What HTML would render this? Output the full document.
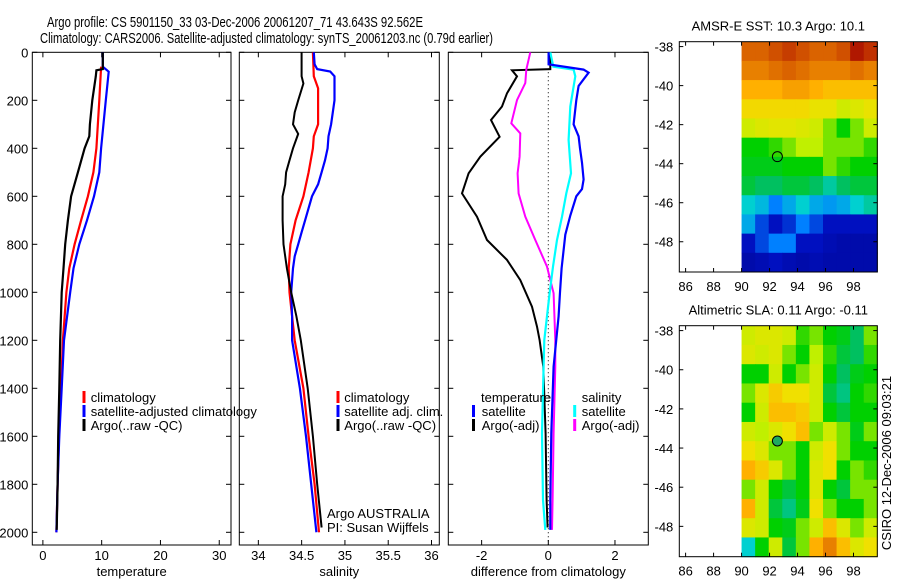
<!DOCTYPE html>
<html><head><meta charset="utf-8"><style>
body{margin:0;background:#fff}
svg{display:block;font-family:"Liberation Sans",sans-serif}
text{font-size:13px;fill:#000}
</style></head><body>
<svg id="fig" width="900" height="580" viewBox="0 0 900 580" xmlns="http://www.w3.org/2000/svg">
<rect width="900" height="580" fill="#fff"/>
<text x="47" y="27" textLength="376" lengthAdjust="spacingAndGlyphs" style="font-size:15px">Argo profile: CS 5901150_33 03-Dec-2006 20061207_71 43.643S 92.562E</text>
<text x="40" y="43" textLength="453" lengthAdjust="spacingAndGlyphs" style="font-size:15px">Climatology: CARS2006. Satellite-adjusted climatology: synTS_20061203.nc (0.79d earlier)</text>
<g id="g"></g>
</svg>
<script>
// ---- profile data ----
const tDepthBlue=[0,60,81,200,400,500,600,700,800,900,1000,1200,1400,1600,1800,2000];
const tBlue=[10.2,10.2,11.2,10.7,9.9,9.6,8.7,7.5,6.2,5.2,4.65,3.6,3.2,2.8,2.5,2.3];
const tDepthRed=[60,200,400,500,600,700,800,900,1000,1200,1400,1600,1800,2000];
const tRed=[9.9,9.6,9.1,8.6,7.65,6.5,5.4,4.5,4.0,3.4,3.1,2.75,2.5,2.3];
const tDepthBlack=[0,70,75,100,200,300,350,400,500,600,700,800,900,1000,1200,1400,1600,1800,1990];
const tBlack=[10.2,10.2,9.1,9.0,8.4,8.0,7.9,7.1,5.95,4.8,4.25,3.8,3.5,3.2,2.95,2.8,2.6,2.5,2.35];

const sDepthRed=[0,100,150,300,350,400,500,600,700,800,900,1000,1200,1400,1600,1800,2000];
const sRed=[34.63,34.64,34.69,34.69,34.64,34.63,34.58,34.52,34.43,34.37,34.35,34.36,34.42,34.52,34.58,34.65,34.70];
const sDepthBlue=[0,50,70,80,100,200,250,300,350,400,450,500,550,600,700,750,800,850,900,1000,1100,1200,1400,1600,1800,2000];
const sBlue=[34.64,34.65,34.68,34.83,34.88,34.88,34.86,34.84,34.81,34.80,34.77,34.73,34.69,34.62,34.54,34.50,34.46,34.42,34.40,34.38,34.39,34.39,34.48,34.55,34.61,34.67];
const sDepthBlack=[0,100,130,200,250,300,340,400,450,500,550,600,700,800,900,1000,1100,1200,1400,1600,1800,1980];
const sBlack=[34.50,34.50,34.52,34.46,34.42,34.40,34.46,34.40,34.36,34.32,34.31,34.28,34.28,34.29,34.33,34.38,34.44,34.49,34.57,34.63,34.68,34.73];

const dDepthTS=[0,50,72,85,140,200,300,350,400,460,530,570,600,680,760,900,1000,1100,1310,1588,1865,1990];
const dTSat=[0.01,0.01,1.06,1.21,0.91,0.84,0.76,0.91,0.95,1.01,1.06,1.01,0.84,0.66,0.51,0.40,0.35,0.31,0.16,0.09,0.06,0.06];
const dDepthTA=[0,70,75,100,171,226,282,352,435,504,588,685,782,865,949,1060,1143,1199,1310,1588,1865,1980];
const dTArgo=[0.06,0.06,-1.09,-0.94,-1.24,-1.39,-1.72,-1.46,-2.04,-2.39,-2.59,-2.14,-1.84,-1.24,-0.84,-0.49,-0.34,-0.26,-0.15,-0.08,-0.05,-0.02];
const dDepthSS=[0,60,72,100,226,365,504,588,685,782,893,1004,1199,1310,1588,1865,1990];
const dSSat=[0.06,0.15,0.76,0.81,0.66,0.61,0.68,0.54,0.41,0.26,0.14,0.04,-0.12,-0.14,-0.19,-0.16,-0.09];
const dDepthSA=[0,72,128,199,296,338,435,504,588,685,782,893,1004,1199,1310,1588,1865,1990];
const dSArgo=[-0.54,-0.66,-0.69,-0.94,-1.11,-0.84,-0.86,-0.92,-0.89,-0.69,-0.39,-0.04,0.16,0.21,0.21,0.16,0.13,0.11];

const depthTicks=[0,200,400,600,800,1000,1200,1400,1600,1800,2000];
const tTicks=[0,10,20,30];
const sTicks=[34,34.5,35,35.5,36];
const sTickLabels=["34","34.5","35","35.5","36"];
const dTicks=[-2,0,2];
const lonTicks=[86,88,90,92,94,96,98];
const latTicks=[-38,-40,-42,-44,-46,-48];

// map grids (colormap fraction), rows from -38 southward, cols lon 90..99.7
const sstGrid=[
[0.82,0.82,0.85,0.88,0.85,0.82,0.82,0.85,0.95,0.9],
[0.78,0.78,0.8,0.82,0.8,0.78,0.78,0.78,0.8,0.78],
[0.72,0.72,0.72,0.74,0.74,0.72,0.7,0.7,0.7,0.7],
[0.66,0.66,0.66,0.66,0.66,0.64,0.64,0.6,0.62,0.64],
[0.6,0.62,0.63,0.63,0.62,0.6,0.55,0.5,0.55,0.6],
[0.5,0.5,0.52,0.55,0.58,0.58,0.55,0.55,0.55,0.52],
[0.48,0.48,0.48,0.5,0.5,0.5,0.55,0.52,0.5,0.5],
[0.45,0.42,0.42,0.45,0.45,0.42,0.38,0.42,0.45,0.45],
[0.35,0.32,0.25,0.3,0.35,0.3,0.28,0.3,0.35,0.38],
[0.3,0.2,0.15,0.18,0.25,0.2,0.15,0.15,0.15,0.15],
[0.15,0.2,0.25,0.25,0.15,0.15,0.12,0.1,0.1,0.1],
[0.1,0.12,0.15,0.12,0.1,0.12,0.1,0.1,0.1,0.1]];
const slaGrid=[
[0.6,0.62,0.62,0.6,0.52,0.55,0.5,0.48,0.42,0.55],
[0.62,0.6,0.62,0.55,0.5,0.58,0.52,0.45,0.42,0.52],
[0.5,0.5,0.6,0.5,0.55,0.6,0.5,0.42,0.48,0.5],
[0.55,0.62,0.68,0.65,0.65,0.6,0.45,0.4,0.5,0.52],
[0.5,0.6,0.7,0.7,0.68,0.6,0.5,0.45,0.5,0.5],
[0.6,0.58,0.62,0.65,0.7,0.55,0.6,0.55,0.48,0.55],
[0.65,0.62,0.55,0.55,0.5,0.6,0.65,0.55,0.5,0.5],
[0.72,0.68,0.62,0.55,0.5,0.62,0.65,0.5,0.55,0.52],
[0.55,0.6,0.5,0.45,0.5,0.62,0.5,0.45,0.55,0.55],
[0.72,0.6,0.45,0.4,0.48,0.65,0.55,0.5,0.5,0.55],
[0.62,0.6,0.5,0.48,0.55,0.6,0.7,0.62,0.55,0.6],
[0.35,0.5,0.6,0.45,0.55,0.72,0.78,0.7,0.62,0.65]];
const floatLon=92.56, floatLat=-43.64;

const NS="http://www.w3.org/2000/svg";
const G=document.getElementById('g');
function el(tag,attrs,parent){const e=document.createElementNS(NS,tag);for(const k in attrs)e.setAttribute(k,attrs[k]);(parent||G).appendChild(e);return e;}
function txt(x,y,s,anchor,parent){const t=el('text',{x:x,y:y,'text-anchor':anchor||'start'},parent);t.textContent=s;return t;}

const TOP=52.3,BOT=545,PXM=0.24;
const yD=d=>TOP+d*PXM;
const panels=[
 {name:'temperature',x0:32.3,x1:231,v0:-1.8,v1:32.0,ticks:tTicks,labels:tTicks.map(String),xlabel:'temperature'},
 {name:'salinity',x0:239.3,x1:439.3,v0:33.78,v1:36.09,ticks:sTicks,labels:sTickLabels,xlabel:'salinity'},
 {name:'difference',x0:448.3,x1:648.3,v0:-3,v1:3,ticks:dTicks,labels:dTicks.map(String),xlabel:'difference from climatology'}];
panels.forEach(p=>{p.sx=v=>p.x0+(v-p.v0)/(p.v1-p.v0)*(p.x1-p.x0);});

function line(p,depths,vals,color,w,name){
  const pts=depths.map((d,i)=>p.sx(vals[i]).toFixed(1)+','+yD(d).toFixed(1)).join(' ');
  const e=el('polyline',{points:pts,fill:'none',stroke:color,'stroke-width':w,'stroke-linejoin':'miter'});
  
  
}

panels.forEach((p,pi)=>{
  const g=el('g',{});
  
  
  el('rect',{x:p.x0,y:TOP,width:p.x1-p.x0,height:BOT-TOP,fill:'none',stroke:'#000','stroke-width':1},g);
  depthTicks.forEach(d=>{
    el('line',{x1:p.x0,x2:p.x0+5,y1:yD(d),y2:yD(d),stroke:'#000'},g);
    el('line',{x1:p.x1,x2:p.x1-5,y1:yD(d),y2:yD(d),stroke:'#000'},g);
    if(pi===0){const t=txt(p.x0-4,yD(d)+5,String(d),'end',g);
      
      }
  });
  p.ticks.forEach((v,i)=>{
    const x=p.sx(v);
    el('line',{x1:x,x2:x,y1:BOT,y2:BOT-5,stroke:'#000'},g);
    el('line',{x1:x,x2:x,y1:TOP,y2:TOP+5,stroke:'#000'},g);
    const t=txt(x,BOT+15,p.labels[i],'middle',g);
    
    
  });
  const xl=txt((p.x0+p.x1)/2,BOT+31,p.xlabel,'middle',g);
  
  
});

const P1=panels[0],P2=panels[1],P3=panels[2];
line(P1,tDepthRed,tRed,'#f00',2.2,'temp-climatology-line');
line(P1,tDepthBlue,tBlue,'#00f',2.2,'temp-satellite-line');
line(P1,tDepthBlack,tBlack,'#000',2.2,'temp-argo-line');
line(P2,sDepthRed,sRed,'#f00',2.2,'sal-climatology-line');
line(P2,sDepthBlue,sBlue,'#00f',2.2,'sal-satellite-line');
line(P2,sDepthBlack,sBlack,'#000',2,'sal-argo-line');
el('line',{x1:P3.sx(0),x2:P3.sx(0),y1:TOP,y2:BOT,stroke:'#000','stroke-dasharray':'1,3'});
line(P3,dDepthTA,dTArgo,'#000',2,'diff-temp-argo-line');
line(P3,dDepthSA,dSArgo,'#f0f',2,'diff-sal-argo-line');
line(P3,dDepthSS,dSSat,'#0ff',2.2,'diff-sal-satellite-line');
line(P3,dDepthTS,dTSat,'#00f',2.2,'diff-temp-satellite-line');

function legendItem(mx,tx,y,color,label,name){
  const g=el('g',{});
  
  
  if(color) el('rect',{x:mx-1.5,y:y-11,width:3,height:12,fill:color},g);
  txt(tx,y,label,'start',g);
}
legendItem(84,90.7,402,'#f00','climatology','legend-climatology');
legendItem(84,90.7,416,'#00f','satellite-adjusted climatology','legend-satellite-adjusted');
legendItem(84,90.7,430,'#000','Argo(..raw -QC)','legend-argo');
legendItem(338,344.3,402,'#f00','climatology','legend-sal-climatology');
legendItem(338,344.3,416,'#00f','satellite adj. clim.','legend-sal-satellite');
legendItem(338,344.3,430,'#000','Argo(..raw -QC)','legend-sal-argo');
legendItem(0,327,518,null,'Argo AUSTRALIA','argo-agency-note');
legendItem(0,327,532,null,'PI: Susan Wijffels','pi-note');
legendItem(0,481,402,null,'temperature','legend-temperature-heading');
legendItem(473.5,481.7,416,'#00f','satellite','legend-temp-satellite');
legendItem(473.5,481.7,430,'#000','Argo(-adj)','legend-temp-argo');
legendItem(0,581.7,402,null,'salinity','legend-salinity-heading');
legendItem(574.7,581.7,416,'#0ff','satellite','legend-sal-satellite-diff');
legendItem(574.7,581.7,430,'#f0f','Argo(-adj)','legend-sal-argo-diff');

// colormap stops (fraction, r,g,b)
const cmap=[[0,0,0,128],[0.15,0,16,192],[0.25,0,128,255],[0.35,0,208,208],[0.42,0,192,96],[0.5,0,208,0],[0.58,192,240,0],[0.65,240,224,0],[0.72,255,176,0],[0.8,224,112,0],[0.9,192,48,0],[1,160,0,0]];
function cm(v){
  v=Math.max(0,Math.min(1,v));
  for(let i=1;i<cmap.length;i++){
    if(v<=cmap[i][0]){const a=cmap[i-1],b=cmap[i],t=(v-a[0])/(b[0]-a[0]);
      return `rgb(${Math.round(a[1]+t*(b[1]-a[1]))},${Math.round(a[2]+t*(b[2]-a[2]))},${Math.round(a[3]+t*(b[3]-a[3]))})`;}
  }
  return 'rgb(160,0,0)';
}
function drawMap(m){
  const g=el('g',{});
  
  
  const sx=lon=>m.x0+(lon-m.lon0)/(m.lon1-m.lon0)*(m.x1-m.x0);
  const sy=lat=>m.y0+(m.lat0-lat)/(m.lat0-m.lat1)*(m.y1-m.y0);
  const nr=m.grid.length,nc=m.grid[0].length;
  const cw=(m.lon1-90)/nc, ch=(m.lat0-m.lat1)/nr;
  m.grid.forEach((row,r)=>row.forEach((v,c)=>{
    const xa=sx(90+c*cw),xb=sx(90+(c+1)*cw),ya=sy(m.lat0-r*ch),yb=sy(m.lat0-(r+1)*ch);
    el('rect',{x:xa.toFixed(2),y:ya.toFixed(2),width:(xb-xa+0.5).toFixed(2),height:(yb-ya+0.5).toFixed(2),fill:cm(v)},g);
  }));
  el('rect',{x:m.x0,y:m.y0,width:m.x1-m.x0,height:m.y1-m.y0,fill:'none',stroke:'#000'},g);
  lonTicks.forEach(lon=>{const x=sx(lon);
    el('line',{x1:x,x2:x,y1:m.y1,y2:m.y1-4,stroke:'#000'},g);
    el('line',{x1:x,x2:x,y1:m.y0,y2:m.y0+4,stroke:'#000'},g);
    txt(x,m.y1+19,String(lon),'middle',g);});
  latTicks.forEach(lat=>{const y=sy(lat);
    el('line',{x1:m.x0,x2:m.x0+4,y1:y,y2:y,stroke:'#000'},g);
    el('line',{x1:m.x1,x2:m.x1-4,y1:y,y2:y,stroke:'#000'},g);
    txt(m.x0-6,y+5,String(lat),'end',g);});
  const c=el('circle',{cx:sx(floatLon),cy:sy(floatLat),r:5,fill:m.fill,stroke:'#000','stroke-width':1},g);
  
  
  const t=txt((m.x0+m.x1)/2,m.y0-11,m.title,'middle',g);
  
  
}
drawMap({name:'sst-map',grid:sstGrid,x0:679.3,x1:877.3,y0:41.7,y1:272,lon0:85.55,lon1:99.7,lat0:-37.75,lat1:-49.55,fill:'none',title:'AMSR-E SST: 10.3  Argo: 10.1'});
drawMap({name:'sla-map',grid:slaGrid,x0:679.3,x1:877.3,y0:325.7,y1:556.7,lon0:85.55,lon1:99.7,lat0:-37.75,lat1:-49.55,fill:'#1faa60',title:'Altimetric SLA: 0.11  Argo: -0.11'});
const rt=txt(0,0,'CSIRO 12-Dec-2006 09:03:21','middle');
rt.setAttribute('transform','translate(891,463) rotate(-90)');


</script>
</body></html>
